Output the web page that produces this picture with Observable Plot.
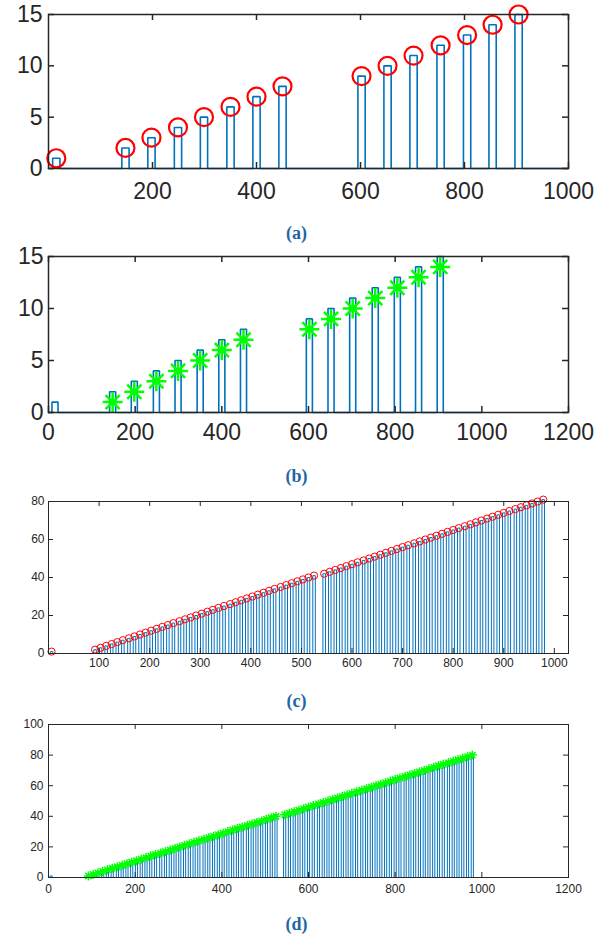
<!DOCTYPE html>
<html>
<head>
<meta charset="utf-8">
<script src="https://cdn.jsdelivr.net/npm/d3@7"></script>
<script src="https://cdn.jsdelivr.net/npm/@observablehq/plot@0.6"></script>
<style>
  html, body { margin: 0; padding: 0; background: #fff; }
  #root { position: relative; width: 605px; height: 936px; overflow: hidden; background: #fff; }
  .panel { position: absolute; left: 0; }
  .cap { position: absolute; width: 605px; text-align: center;
         font-family: "Liberation Serif", "Times New Roman", serif; font-weight: bold;
         font-size: 18px; color: #1f66a6; line-height: 1; }
</style>
</head>
<body>
<div id="root"></div>
<script>
// ---------- data: panels (a) and (b) ----------
const pulseXAB = [15, 148, 198, 249, 299, 350, 400, 450, 602, 652, 702, 754, 805, 854, 904];
const pulseHAB = [1, 2, 3, 4, 5, 6, 7, 8, 9, 10, 11, 12, 13, 14, 15];
const starXB = [148, 198, 249, 299, 350, 400, 450, 602, 652, 702, 754, 805, 854, 904];
const starYB = [1, 2, 3, 4, 5, 6, 7, 8, 9, 10, 11, 12, 13, 14];
const signalRangeAB = [0, 1000];
const xTicksA = [200, 400, 600, 800, 1000];
const yTicksA = [0, 5, 10, 15];
const xTicksB = [0, 200, 400, 600, 800, 1000, 1200];
const yTicksB = [0, 5, 10, 15];

// ---------- data: panels (c) and (d) ----------
const pulseXCD = [6,
  92, 103, 114, 125, 136, 147, 159, 170, 181, 192,
  203, 214, 225, 236, 247, 259, 270, 281, 292, 303,
  314, 325, 336, 347, 359, 370, 381, 392, 403, 414,
  425, 436, 447, 459, 470, 481, 492, 503, 514, 525,
  545, 556, 567, 578, 589, 600, 611, 623, 634, 645,
  656, 667, 678, 689, 700, 711, 723, 734, 745, 756,
  767, 778, 789, 800, 811, 823, 834, 845, 856, 867,
  878, 889, 900, 911, 923, 934, 945, 956, 967, 978];
const pulseHCD = [1,
  2, 3, 4, 5, 6, 7, 8, 9, 10, 11,
  12, 13, 14, 15, 16, 17, 18, 19, 20, 21,
  22, 23, 24, 25, 26, 27, 28, 29, 30, 31,
  32, 33, 34, 35, 36, 37, 38, 39, 40, 41,
  42, 43, 44, 45, 46, 47, 48, 49, 50, 51,
  52, 53, 54, 55, 56, 57, 58, 59, 60, 61,
  62, 63, 64, 65, 66, 67, 68, 69, 70, 71,
  72, 73, 74, 75, 76, 77, 78, 79, 80, 81];
const starXD = [
  92, 103, 114, 125, 136, 147, 159, 170, 181, 192,
  203, 214, 225, 236, 247, 259, 270, 281, 292, 303,
  314, 325, 336, 347, 359, 370, 381, 392, 403, 414,
  425, 436, 447, 459, 470, 481, 492, 503, 514, 525,
  545, 556, 567, 578, 589, 600, 611, 623, 634, 645,
  656, 667, 678, 689, 700, 711, 723, 734, 745, 756,
  767, 778, 789, 800, 811, 823, 834, 845, 856, 867,
  878, 889, 900, 911, 923, 934, 945, 956, 967, 978];
const starYD = [
  1, 2, 3, 4, 5, 6, 7, 8, 9, 10,
  11, 12, 13, 14, 15, 16, 17, 18, 19, 20,
  21, 22, 23, 24, 25, 26, 27, 28, 29, 30,
  31, 32, 33, 34, 35, 36, 37, 38, 39, 40,
  41, 42, 43, 44, 45, 46, 47, 48, 49, 50,
  51, 52, 53, 54, 55, 56, 57, 58, 59, 60,
  61, 62, 63, 64, 65, 66, 67, 68, 69, 70,
  71, 72, 73, 74, 75, 76, 77, 78, 79, 80];
const signalRangeCD = [0, 1026];
const xTicksC = [100, 200, 300, 400, 500, 600, 700, 800, 900, 1000];
const yTicksC = [0, 20, 40, 60, 80];
const xTicksD = [0, 200, 400, 600, 800, 1000, 1200];
const yTicksD = [0, 20, 40, 60, 80, 100];
const captions = ["(a)", "(b)", "(c)", "(d)"];

// ---------- helpers ----------
const BLUE = "#0072BD", RED = "#FF0000", GREEN = "#00FF00", AX = "#262626";

function signal(xs, hs, half, range) {
  const pts = [{x: range[0], y: 0}];
  xs.forEach((c, i) => {
    pts.push({x: c - half, y: 0}, {x: c - half, y: hs[i]}, {x: c + half, y: hs[i]}, {x: c + half, y: 0});
  });
  pts.push({x: range[1], y: 0});
  return pts;
}

// MATLAB-style '*' marker: horizontal, vertical and two diagonal strokes
const asterisk8 = {
  draw(ctx, size) {
    const r = Math.sqrt(size / Math.PI), d = r * Math.SQRT1_2;
    ctx.moveTo(-r, 0); ctx.lineTo(r, 0);
    ctx.moveTo(0, -r); ctx.lineTo(0, r);
    ctx.moveTo(-d, -d); ctx.lineTo(d, d);
    ctx.moveTo(-d, d); ctx.lineTo(d, -d);
  }
};

const root = document.getElementById("root");
const ML = 48, MR = 37, PW = 605 - ML - MR;

function panel(o) {
  const PH = o.height - o.mt - o.mb;
  const tk = o.tick;
  const marks = [
    ...o.marks,
    Plot.ruleX(o.xTicks, {x: d => d, insetTop: PH - tk, stroke: AX, strokeWidth: o.fw}),
    Plot.ruleX(o.xTicks, {x: d => d, insetBottom: PH - tk, stroke: AX, strokeWidth: o.fw}),
    Plot.ruleY(o.yTicks, {y: d => d, insetRight: PW - tk, stroke: AX, strokeWidth: o.fw}),
    Plot.ruleY(o.yTicks, {y: d => d, insetLeft: PW - tk, stroke: AX, strokeWidth: o.fw}),
    Plot.frame({stroke: AX, strokeWidth: o.fw}),
    Plot.axisX(o.xTicks, {tickSize: 0, tickPadding: o.padX, tickFormat: "d", fontSize: o.fs, fill: AX}),
    Plot.axisY(o.yTicks, {tickSize: 0, tickPadding: o.padY, tickFormat: "d", fontSize: o.fs, fill: AX})
  ];
  const svg = Plot.plot({
    width: 605, height: o.height,
    marginLeft: ML, marginRight: MR, marginTop: o.mt, marginBottom: o.mb,
    x: {domain: o.xDomain, label: null},
    y: {domain: o.yDomain, label: null},
    style: {fontFamily: "'Liberation Sans', Arial, sans-serif", background: "transparent", overflow: "visible"},
    marks
  });
  const wrap = document.createElement("div");
  wrap.className = "panel";
  wrap.style.top = o.top + "px";
  wrap.appendChild(svg);
  root.appendChild(wrap);
}

// (a)
panel({
  top: 0, height: 208, mt: 14, mb: 40, xDomain: [0, 1000], yDomain: [0, 15],
  xTicks: xTicksA, yTicks: yTicksA, fs: 23, padX: 14, padY: 6, tick: 6, fw: 1.5,
  marks: [
    Plot.line(signal(pulseXAB, pulseHAB, 7, signalRangeAB), {x: "x", y: "y", stroke: BLUE, strokeWidth: 1.6, strokeLinejoin: "miter"}),
    Plot.dot(pulseXAB.map((x, i) => ({x, y: pulseHAB[i]})), {x: "x", y: "y", r: 9, stroke: RED, strokeWidth: 2.2, fill: "none"})
  ]
});

// (b)
panel({
  top: 240, height: 212, mt: 16, mb: 40, xDomain: [0, 1200], yDomain: [0, 15],
  xTicks: xTicksB, yTicks: yTicksB, fs: 23, padX: 11, padY: 5, tick: 6, fw: 1.5,
  marks: [
    Plot.line(signal(pulseXAB, pulseHAB, 7, signalRangeAB), {x: "x", y: "y", stroke: BLUE, strokeWidth: 1.6, strokeLinejoin: "miter"}),
    Plot.dot(starXB.map((x, i) => ({x, y: starYB[i]})), {x: "x", y: "y", r: 10, symbol: asterisk8, stroke: GREEN, strokeWidth: 2.5, fill: "none"})
  ]
});

// (c)
panel({
  top: 490, height: 193, mt: 11, mb: 30, xDomain: [0, 1028], yDomain: [0, 80],
  xTicks: xTicksC, yTicks: yTicksC, fs: 12, padX: 5, padY: 4, tick: 5, fw: 1,
  marks: [
    Plot.line(signal(pulseXCD, pulseHCD, 2.5, signalRangeCD), {x: "x", y: "y", stroke: BLUE, strokeWidth: 1, strokeLinejoin: "miter"}),
    Plot.dot(pulseXCD.map((x, i) => ({x, y: pulseHCD[i]})), {x: "x", y: "y", r: 3.6, stroke: RED, strokeWidth: 1, fill: "none"})
  ]
});

// (d)
panel({
  top: 710, height: 197, mt: 14, mb: 30, xDomain: [0, 1200], yDomain: [0, 100],
  xTicks: xTicksD, yTicks: yTicksD, fs: 12, padX: 7, padY: 5, tick: 5, fw: 1,
  marks: [
    Plot.line(signal(pulseXCD, pulseHCD, 2.5, signalRangeCD), {x: "x", y: "y", stroke: BLUE, strokeWidth: 1, strokeLinejoin: "miter"}),
    Plot.dot(starXD.map((x, i) => ({x, y: starYD[i]})), {x: "x", y: "y", r: 4.5, symbol: asterisk8, stroke: GREEN, strokeWidth: 1.5, fill: "none"})
  ]
});

// captions
const capTops = [224, 467, 692, 915];
captions.forEach((t, i) => {
  const d = document.createElement("div");
  d.className = "cap";
  d.style.top = capTops[i] + "px";
  d.style.left = "-6px";
  d.textContent = t;
  root.appendChild(d);
});
</script>
</body>
</html>
